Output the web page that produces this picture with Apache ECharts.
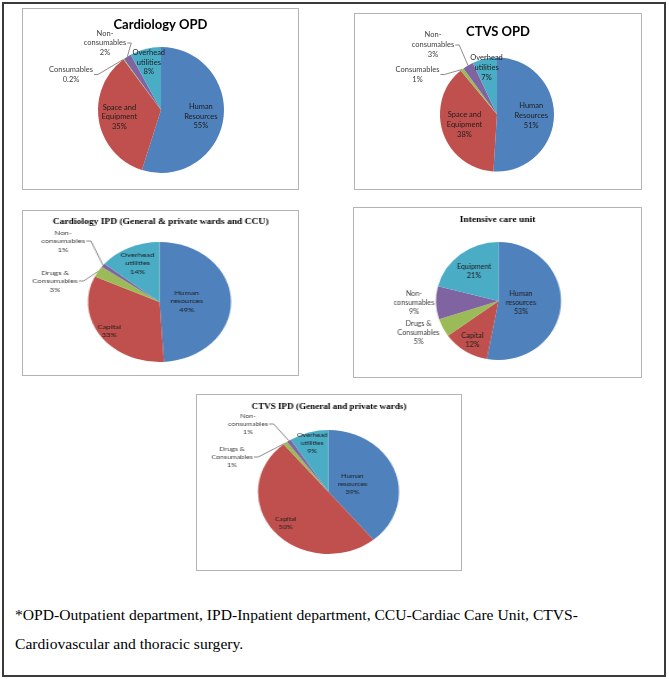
<!DOCTYPE html>
<html lang="en">
<head>
<meta charset="utf-8">
<title>Cost distribution by department</title>
<script type="text/javascript" src="https://cdn.jsdelivr.net/npm/echarts@6/dist/echarts.min.js"></script>
<style>
  body { margin: 0; background: #fff; }
  #frame { position: absolute; left: 2px; top: 2px; width: 660px; height: 671px; border: 2px solid #3a3a3a; }
  .panel { position: absolute; border: 1px solid #b4b4b4; overflow: hidden; background: #fff; }
  .chart { position: absolute; left: 0; top: 0; transform-origin: 0 0; }
  #note { position: absolute; left: 15px; top: 600px; font-family: "Liberation Serif", serif; font-size: 15.6px; line-height: 29px; color: #000; }
</style>
</head>
<body>
<div id="frame"></div>
<div class="panel"><div class="chart" id="c1"></div></div>
<div class="panel"><div class="chart" id="c2"></div></div>
<div class="panel"><div class="chart" id="c3"></div></div>
<div class="panel"><div class="chart" id="c4"></div></div>
<div class="panel"><div class="chart" id="c5"></div></div>
<div id="note">*OPD-Outpatient department, IPD-Inpatient department, CCU-Cardiac Care Unit, CTVS-<br>Cardiovascular and thoracic surgery.</div>
<script type="text/javascript">
    // slice names, wrapped the way the original labels wrap
    var cardOpdNames = ['Human\nResources', 'Space and\nEquipment', 'Consumables', 'Non-\nconsumables', 'Overhead\nutilities'];
    var cardOpdValues = [55, 35, 0.2, 2, 8];

    var ctvsOpdNames = ['Human\nResources', 'Space and\nEquipment', 'Consumables', 'Non-\nconsumables', 'Overhead\nutilities'];
    var ctvsOpdValues = [51, 38, 1, 3, 7];

    var cardIpdNames = ['Human\nresources', 'Capital', 'Drugs &\nConsumables', 'Non-\nconsumables', 'Overhead\nutilities'];
    var cardIpdValues = [49, 33, 3, 1, 14];

    var icuNames = ['Human\nresources', 'Capital', 'Drugs &\nConsumables', 'Non-\nconsumables', 'Equipment'];
    var icuValues = [53, 12, 5, 9, 21];

    var ctvsIpdNames = ['Human\nresources', 'Capital', 'Drugs &\nConsumables', 'Non-\nconsumables', 'Overhead\nutilities'];
    var ctvsIpdValues = [39, 50, 1, 1, 9];

    var sliceColors = ['#4f81bd', '#c0504d', '#9bbb59', '#8064a2', '#4bacc6'];

    // layout of each panel (page pixels); the stretched pies get scaled in x
    // inner: label distance from centre as part of the radius
    // outside: label centre from the pie centre, and whether a leader line is drawn
    var panels = [
        { id: 'c1', box: [22, 8, 277, 182], title: 'Cardiology OPD', serif: false, titleSize: 13, titleY: 23,
          names: cardOpdNames, values: cardOpdValues, cx: 161, cy: 110, rx: 63, ry: 63,
          fontSize: 7.5, lineHeight: 9.5, inner: [0.64, 0.67, 0, 0, 0.78],
          outside: { 2: [-90, -35.5, true], 3: [-56, -67, true] } },
        { id: 'c2', box: [354, 13, 288, 177], title: 'CTVS OPD', serif: false, titleSize: 13, titleY: 30,
          names: ctvsOpdNames, values: ctvsOpdValues, cx: 497, cy: 114.5, rx: 57, ry: 57,
          fontSize: 7.5, lineHeight: 10, inner: [0.6, 0.6, 0, 0, 0.84],
          outside: { 2: [-79.5, -40, true], 3: [-64, -69.5, true] } },
        { id: 'c3', box: [22, 210, 277, 166], title: 'Cardiology IPD (General & private wards and CCU)', serif: true, titleSize: 8, titleY: 220,
          names: cardIpdNames, values: cardIpdValues, cx: 159.5, cy: 302, rx: 71.5, ry: 60,
          fontSize: 6.5, lineHeight: 8.5, inner: [0.38, 0.85, 0, 0, 0.72],
          outside: { 2: [-104.5, -21, true], 3: [-96.5, -61, true] } },
        { id: 'c4', box: [353, 207, 289, 171], title: 'Intensive care unit', serif: true, titleSize: 9, titleY: 218,
          names: icuNames, values: icuValues, cx: 498.5, cy: 301, rx: 62.5, ry: 59,
          fontSize: 6.8, lineHeight: 9, inner: [0.36, 0.78, 0, 0, 0.64],
          outside: { 2: [-80, 32, false], 3: [-84.5, 1.5, false] } },
        { id: 'c5', box: [196, 394, 266, 177], title: 'CTVS IPD (General and private wards)', serif: true, titleSize: 8, titleY: 405,
          names: ctvsIpdNames, values: ctvsIpdValues, cx: 328.5, cy: 492, rx: 70.5, ry: 62,
          fontSize: 6.2, lineHeight: 8, inner: [0.36, 0.79, 0, 0, 0.83],
          outside: { 2: [-96.5, -35, true], 3: [-80.5, -68, true] } }
    ];

    panels.forEach(function (p) {
        var sx = p.rx / p.ry;
        var el = document.getElementById(p.id);
        var box = el.parentNode;
        box.style.left = p.box[0] + 'px';
        box.style.top = p.box[1] + 'px';
        box.style.width = (p.box[2] - 2) + 'px';
        box.style.height = (p.box[3] - 2) + 'px';
        el.style.width = ((p.box[2] - 2) / sx) + 'px';
        el.style.height = (p.box[3] - 2) + 'px';
        el.style.transform = 'scale(' + sx + ',1)';

        var cx = (p.cx - p.box[0] - 1) / sx;
        var cy = p.cy - p.box[1] - 1;
        var font = 'Lato';

        var data = p.names.map(function (n, i) {
            var item = { name: n, value: p.values[i], itemStyle: { color: sliceColors[i] } };
            var o = p.outside[i];
            if (o) {
                item.label = { position: 'outside', overflow: 'none', distanceToLabelLine: 2 };
                item.labelLine = { show: o[2], length: 4, length2: 2 };
            }
            return item;
        });

        var chart = echarts.init(el);
        chart.setOption({
            animation: false,
            title: {
                text: p.title,
                left: 'center',
                top: p.titleY - p.box[1] - 1 - p.titleSize / 2 + 1.5,
                padding: 0,
                textStyle: {
                    fontFamily: p.serif ? 'Liberation Serif' : font,
                    fontWeight: 'bold',
                    fontSize: p.titleSize,
                    color: '#000'
                }
            },
            series: [{
                type: 'pie',
                center: [cx, cy],
                radius: p.ry,
                startAngle: 90,
                clockwise: true,
                avoidLabelOverlap: false,
                data: data,
                itemStyle: { borderWidth: 0 },
                label: {
                    position: 'inside',
                    alignTo: 'none',
                    formatter: function (q) {
                        var tag = p.outside[q.dataIndex] ? 'o' : 'i';
                        return (q.name + '\n' + q.value + '%').split('\n').map(function (s) {
                            return '{' + tag + '|' + s + '}';
                        }).join('\n');
                    },
                    rich: {
                        i: { align: 'center', color: '#1d1d1d', fontFamily: font, fontSize: p.fontSize, lineHeight: p.lineHeight },
                        o: { align: 'center', color: '#404040', fontFamily: font, fontSize: p.fontSize, lineHeight: p.lineHeight }
                    }
                },
                labelLine: {
                    smooth: false,
                    lineStyle: { color: '#6f6f6f', width: 0.8 }
                },
                emphasis: { disabled: true },
                labelLayout: function (q) {
                    var r = q.labelRect;
                    var o = p.outside[q.dataIndex];
                    if (o) {
                        var x = cx + o[0] / sx, y = cy + o[1];
                        var res = { x: x, y: y, align: 'center', verticalAlign: 'middle' };
                        if (o[2] && q.labelLinePoints) {
                            var endX = x + r.width / 2 + 1;
                            res.labelLinePoints = [q.labelLinePoints[0], [endX + 4, y], [endX, y]];
                        }
                        return res;
                    }
                    var f = p.inner[q.dataIndex];
                    if (!f) return {};
                    var vx = r.x + r.width / 2 - cx, vy = r.y + r.height / 2 - cy;
                    var d = Math.sqrt(vx * vx + vy * vy) || 1;
                    return { dx: vx / d * f * p.ry - vx, dy: vy / d * f * p.ry - vy };
                }
            }]
        });
    });
</script>
</body>
</html>
